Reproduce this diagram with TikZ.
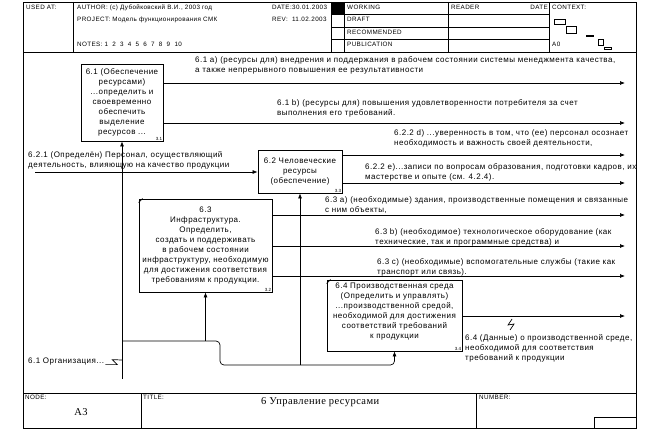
\documentclass[tikz,border=0pt]{standalone}
\usepackage{fontspec}
\setmainfont{Liberation Sans}
\newfontfamily\idef[LetterSpace=6]{Liberation Sans}
\newfontfamily\ttlfont[LetterSpace=4]{Liberation Serif}
\usetikzlibrary{arrows.meta}
\newcommand\dg{\idef\fontsize{8}{10}\selectfont}
\newcommand\hd{\idef\fontsize{6.3}{7}\selectfont}
\newcommand\bn{\fontsize{4.5}{5}\selectfont}
\newcommand\tl{\ttlfont\fontsize{10.5}{12}\selectfont}

\begin{document}
\begin{tikzpicture}[x=1pt,y=-1pt,
    func/.style={draw, line width=0.8pt, font=\dg, align=center, inner sep=1pt},
    lbl/.style={font=\dg, align=left, anchor=north west, inner sep=0pt},
    hdr/.style={font=\hd, anchor=base west, inner sep=0pt},
    boxno/.style={font=\bn, anchor=south east, inner sep=1pt},
    arr/.style={-{Latex[length=5pt,width=4pt]}, line width=0.7pt},
    ln/.style={line width=0.7pt}]
    \useasboundingbox (0,0) rectangle (648,433);

    % frame
    \draw[ln] (23,2) rectangle (636,428);
    \draw[ln] (23,52) -- (636,52);
    \draw[ln] (23,393) -- (636,393);

    % header
    \foreach \x in {73,331,344,448,549}
      \draw[ln] (\x,2) -- (\x,52);
    \foreach \y in {14.5,27,39.5}
      \draw[ln] (331,\y) -- (549,\y);
    \fill (331,2) rectangle (344,14.5);

    \node[hdr] (usedat) at (26,10) {USED AT:};
    \node[hdr] (author) at (77,10) {AUTHOR: (c) Дубойковский В.И., 2003 год};
    \node[hdr] (project) at (77,22) {PROJECT: Модель функционирования СМК};
    \node[hdr] (notes) at (77,47) {NOTES: 1 \ 2 \ 3 \ 4 \ 5 \ 6 \ 7 \ 8 \ 9 \ 10};
    \begin{scope}
      \clip (250,2) rectangle (331,52);
      \node[hdr] (date) at (272,10) {DATE:30.01.2003};
      \node[hdr] (rev) at (272,22) {REV: \ 11.02.2003};
    \end{scope}
    \node[hdr] (working) at (347,10) {WORKING};
    \node[hdr] (draft) at (347,22) {DRAFT};
    \node[hdr] (recom) at (347,35) {RECOMMENDED};
    \node[hdr] (publ) at (347,47) {PUBLICATION};
    \node[hdr] (reader) at (451,10) {READER};
    \node[hdr, anchor=base east] (rdate) at (548,10) {DATE};
    \node[hdr] (context) at (552,10) {CONTEXT:};
    \node[hdr] (ctxnode) at (552,47) {A0};

    % context thumbnail
    \draw[ln] (554,19) rectangle (565,24);
    \draw[ln] (566,26) rectangle (576,33);
    \fill (586,35) rectangle (594,37);
    \draw[ln] (598,39) rectangle (603,45);
    \draw[ln] (604,47) rectangle (611,49);

    % footer
    \draw[ln] (141,393) -- (141,428);
    \draw[ln] (476,393) -- (476,428);
    \draw[ln] (594,417) rectangle (636,428);
    \node[hdr] (nodelbl) at (25,399) {NODE:};
    \node[hdr] (titlelbl) at (143,399) {TITLE:};
    \node[hdr] (numlbl) at (479,399) {NUMBER:};
    \node[font=\tl, anchor=base, inner sep=0pt] (nodeno) at (81,415) {A3};
    \node[font=\tl, anchor=base west, inner sep=0pt] (title) at (261,404) {6 Управление ресурсами};

    % functions
    \node[func, minimum width=82, minimum height=77] (f61) at (122,102.5)
      {6.1 (Обеспечение\\ресурсами)\\...определить и\\своевременно\\обеспечить\\выделение\\ресурсов ...};
    \node[func, minimum width=84, minimum height=43] (f62) at (300,171.5)
      {6.2 Человеческие\\ресурсы\\(обеспечение)};
    \node[func, minimum width=133, minimum height=93] (f63) at (205.5,245.5)
      {6.3\\Инфраструктура.\\Определить,\\создать и поддерживать\\в рабочем состоянии\\инфраструктуру, необходимую\\для достижения соответствия\\требованиям к продукции.};
    \node[func, minimum width=135, minimum height=71] (f64) at (394.5,315.5)
      {6.4 Производственная среда\\(Определить и управлять)\\...производственной средой,\\необходимой для достижения\\соответствий требований\\к продукции\\ };
    \node[boxno] at (f61.south east) {3.1};
    \node[boxno] at (f62.south east) {3.3};
    \node[boxno] at (f63.south east) {3.2};
    \node[boxno] at (f64.south east) {3.4};
    \draw[ln] (f63.north west) ++(0,4) -- ++(4,-4);
    \draw[ln] (f64.north west) ++(0,4) -- ++(4,-4);

    % outputs
    \coordinate (o61a) at (625,83);
    \coordinate (o61b) at (625,123);
    \coordinate (o622d) at (625,155);
    \coordinate (o622e) at (625,183);
    \coordinate (o63a) at (625,215);
    \coordinate (o63b) at (625,246);
    \coordinate (o63c) at (625,276);
    \coordinate (o64) at (625,316);
    \draw[arr] (f61.east |- o61a) -- (o61a);
    \draw[arr] (f61.east |- o61b) -- (o61b);
    \draw[arr] (f62.east |- o622d) -- (o622d);
    \draw[arr] (f62.east |- o622e) -- (o622e);
    \draw[arr] (f63.east |- o63a) -- (o63a);
    \draw[arr] (f63.east |- o63b) -- (o63b);
    \draw[arr] (f63.east |- o63c) -- (o63c);
    \draw[arr] (f64.east |- o64) -- (o64);

    \node[lbl] (l61a) at (195,56) {6.1 a) (ресурсы для) внедрения и поддержания в рабочем состоянии системы менеджмента качества,\\а также непрерывного повышения ее результативности};
    \node[lbl] (l61b) at (277,99) {6.1 b) (ресурсы для) повышения удовлетворенности потребителя за счет\\выполнения его требований.};
    \node[lbl] (l622d) at (394,130) {6.2.2 d) ...уверенность в том, что (ее) персонал осознает\\необходимость и важность своей деятельности,};
    \node[lbl] (l622e) at (365,163) {6.2.2 e)...записи по вопросам образования, подготовки кадров, их\\мастерстве и опыте (см. 4.2.4).};
    \node[lbl] (l63a) at (325,196) {6.3 a) (необходимые) здания, производственные помещения и связанные\\с ним объекты,};
    \node[lbl] (l63b) at (375,228) {6.3 b) (необходимое) технологическое оборудование (как\\технические, так и программные средства) и};
    \node[lbl] (l63c) at (377,258) {6.3 c) (необходимые) вспомогательные службы (такие как\\транспорт или связь).};
    \node[lbl] (l64) at (465,334) {6.4 (Данные) о производственной среде,\\необходимой для соответствия\\требований к продукции};
    \draw[ln] (512,319) -- (508,325) -- (514,324) -- (510,330);

    % input
    \coordinate (i621) at (35,172);
    \draw[arr] (i621) -- (i621 -| f62.west);
    \node[lbl] (l621) at (28,151) {6.2.1 (Определён) Персонал, осуществляющий\\деятельность, влияющую на качество продукции};

    % mechanism
    \coordinate (m0) at (122,379);
    \coordinate (j1) at (122,341);
    \coordinate (j3) at (301,365);
    \draw[arr] (m0) -- (f61.south);
    \draw[arr, rounded corners=4pt] (j1) -- (220,341) -- (220,365) -- (f64.south |- j3) -- (f64.south);
    \draw[arr] (f63.south |- j1) -- (f63.south);
    \draw[arr] (f62.south |- j3) -- (f62.south);
    \node[lbl] (lorg) at (28,358) {6.1 Организация...};
    \draw[ln] ([xshift=1pt]lorg.south east) ++(0,-1) -- ++(12,0) -- ++(-5,-5) -- (m0 |- 0,360);
\end{tikzpicture}
\end{document}
